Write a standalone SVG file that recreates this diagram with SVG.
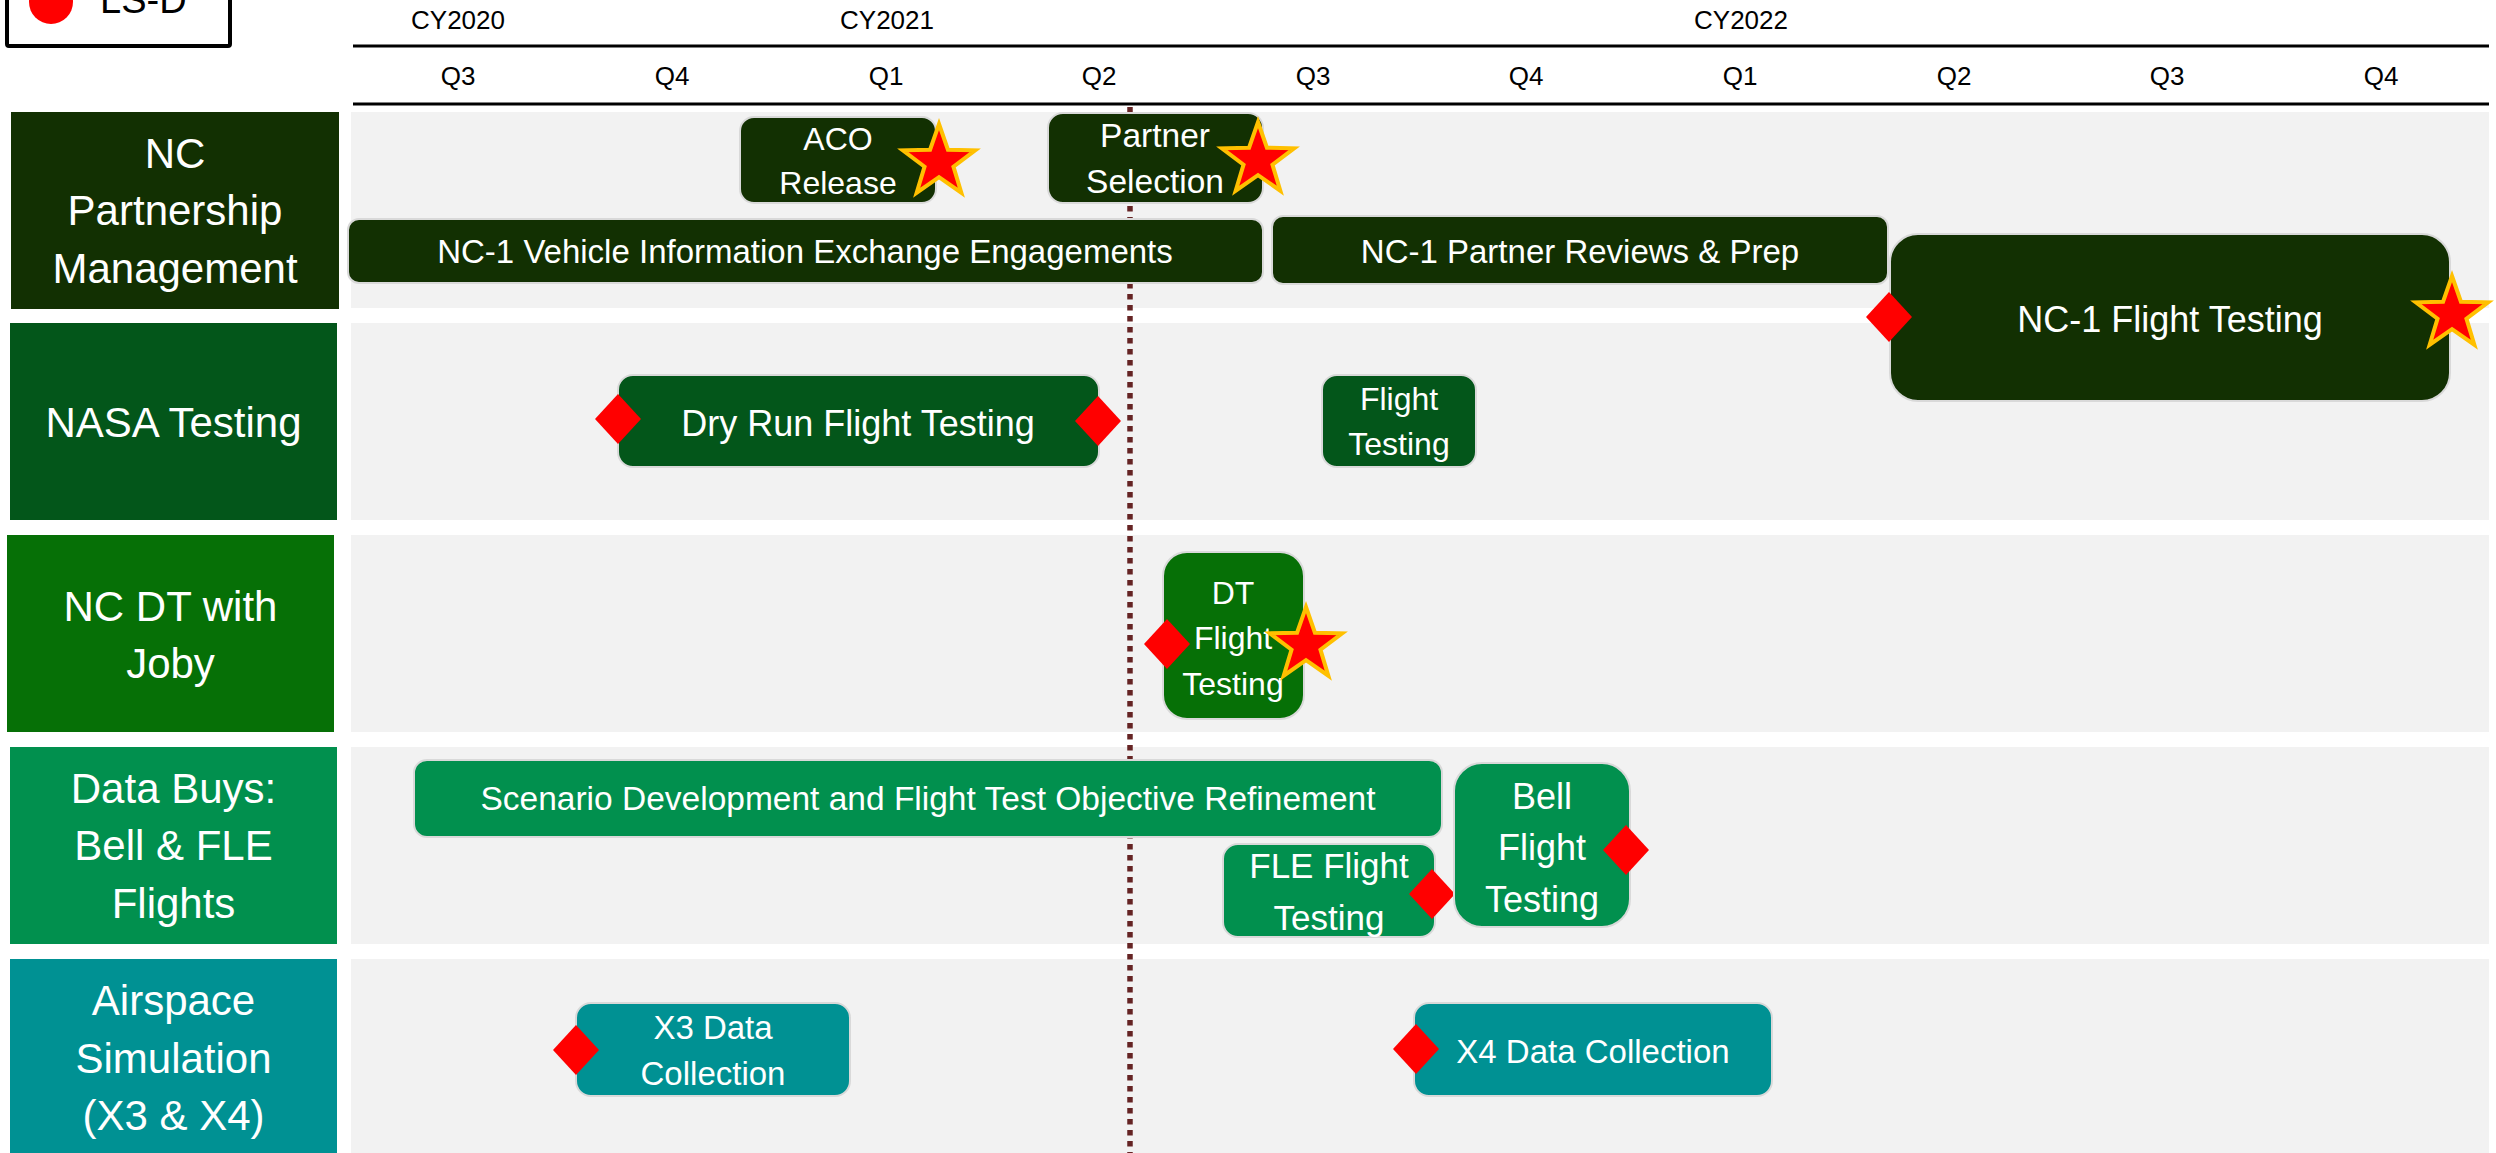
<svg xmlns="http://www.w3.org/2000/svg" xmlns:xlink="http://www.w3.org/1999/xlink" width="2496" height="1153" viewBox="0 0 2496 1153">
  <style>
    text { font-family: "Liberation Sans", Arial, sans-serif; }
    .hdr { font-size: 26px; fill: #000000; text-anchor: middle; }
    .lane { fill: #f2f2f2; }
    .lbl { font-size: 42px; fill: #ffffff; text-anchor: middle; }
    .bar { stroke: #d9d9d9; stroke-width: 2; }
    .t { fill: #ffffff; text-anchor: middle; }
    .c1 { fill: #123002; }
    .c2 { fill: #03561A; }
    .c3 { fill: #067006; }
    .c4 { fill: #01904E; }
    .c5 { fill: #009193; }
    .axis { stroke: #000000; stroke-width: 3; }
    .today { stroke: #652424; stroke-width: 5.5; stroke-dasharray: 5.5 5.5; fill: none; }
  </style>
  <defs>
    <polygon id="diamond" points="0,-25 23,0 0,25 -23,0" fill="#ff0000"/>
    <polygon id="star" points="0,-38 8.93,-12.29 36.14,-11.74 14.46,4.69 22.34,30.74 0,15.2 -22.34,30.74 -14.46,4.69 -36.14,-11.74 -8.93,-12.29" fill="#ff0000" stroke="#ffc000" stroke-width="4" stroke-linejoin="miter"/>
  </defs>

  <rect width="2496" height="1153" fill="#ffffff"/>

  <!-- legend (top edge runs off the canvas) -->
  <g id="legend">
    <rect x="7" y="-20" width="223" height="66" rx="2" fill="#ffffff" stroke="#000000" stroke-width="4"/>
    <circle cx="51" cy="2" r="22" fill="#ff0000"/>
    <text x="100" y="13" font-size="38" fill="#000000">LS-D</text>
  </g>

  <!-- time axis -->
  <g id="axis">
    <text class="hdr" x="458" y="29">CY2020</text>
    <text class="hdr" x="887" y="29">CY2021</text>
    <text class="hdr" x="1741" y="29">CY2022</text>
    <line class="axis" x1="353" y1="46" x2="2489" y2="46"/>
    <text class="hdr" x="458" y="85">Q3</text>
    <text class="hdr" x="672" y="85">Q4</text>
    <text class="hdr" x="886" y="85">Q1</text>
    <text class="hdr" x="1099" y="85">Q2</text>
    <text class="hdr" x="1313" y="85">Q3</text>
    <text class="hdr" x="1526" y="85">Q4</text>
    <text class="hdr" x="1740" y="85">Q1</text>
    <text class="hdr" x="1954" y="85">Q2</text>
    <text class="hdr" x="2167" y="85">Q3</text>
    <text class="hdr" x="2381" y="85">Q4</text>
    <line class="axis" x1="353" y1="104" x2="2489" y2="104"/>
  </g>

  <!-- swimlane backgrounds -->
  <g id="lanes">
    <rect class="lane" x="351" y="112" width="2138" height="196"/>
    <rect class="lane" x="351" y="323" width="2138" height="197"/>
    <rect class="lane" x="351" y="535" width="2138" height="197"/>
    <rect class="lane" x="351" y="747" width="2138" height="197"/>
    <rect class="lane" x="351" y="959" width="2138" height="194"/>
  </g>

  <!-- swimlane titles -->
  <g id="lane-nc-partnership">
    <rect class="c1" x="11" y="112" width="328" height="197"/>
    <text class="lbl" x="175" y="168">NC</text>
    <text class="lbl" x="175" y="225">Partnership</text>
    <text class="lbl" x="175" y="283">Management</text>
  </g>
  <g id="lane-nasa-testing">
    <rect class="c2" x="10" y="323" width="327" height="197"/>
    <text class="lbl" x="173.5" y="437">NASA Testing</text>
  </g>
  <g id="lane-nc-dt-joby">
    <rect class="c3" x="7" y="535" width="327" height="197"/>
    <text class="lbl" x="170.5" y="621">NC DT with</text>
    <text class="lbl" x="170.5" y="678">Joby</text>
  </g>
  <g id="lane-data-buys">
    <rect class="c4" x="10" y="747" width="327" height="197"/>
    <text class="lbl" x="173.5" y="803">Data Buys:</text>
    <text class="lbl" x="173.5" y="860">Bell &amp; FLE</text>
    <text class="lbl" x="173.5" y="918">Flights</text>
  </g>
  <g id="lane-airspace-sim">
    <rect class="c5" x="10" y="959" width="327" height="194"/>
    <text class="lbl" x="173.5" y="1015">Airspace</text>
    <text class="lbl" x="173.5" y="1073">Simulation</text>
    <text class="lbl" x="173.5" y="1130">(X3 &amp; X4)</text>
  </g>

  <!-- status date marker -->
  <g id="today-marker">
    <line class="today" x1="1130" y1="107" x2="1130" y2="1153"/>
  </g>

  <!-- NC Partnership Management tasks -->
  <g id="aco-release">
    <rect class="bar c1" x="740" y="117" width="196" height="86" rx="14"/>
    <text class="t" x="838" y="150" font-size="32">ACO</text>
    <text class="t" x="838" y="194" font-size="32">Release</text>
    <use xlink:href="#star" x="939" y="162"/>
  </g>
  <g id="partner-selection">
    <rect class="bar c1" x="1048" y="113" width="215" height="90" rx="15"/>
    <text class="t" x="1155" y="147" font-size="33.5">Partner</text>
    <text class="t" x="1155" y="193" font-size="33.5">Selection</text>
    <use xlink:href="#star" x="1258" y="160"/>
  </g>
  <g id="nc1-info-exchange">
    <rect class="bar c1" x="348" y="219" width="915" height="64" rx="11"/>
    <text class="t" x="805" y="263" font-size="33">NC-1 Vehicle Information Exchange Engagements</text>
  </g>
  <g id="nc1-partner-reviews">
    <rect class="bar c1" x="1272" y="216" width="616" height="68" rx="11"/>
    <text class="t" x="1580" y="263" font-size="33">NC-1 Partner Reviews &amp; Prep</text>
  </g>
  <g id="nc1-flight-testing">
    <rect class="bar c1" x="1890" y="234" width="560" height="167" rx="28"/>
    <text class="t" x="2170" y="332" font-size="36">NC-1 Flight Testing</text>
    <use xlink:href="#diamond" x="1889" y="317"/>
    <use xlink:href="#star" x="2452" y="314"/>
  </g>

  <!-- NASA Testing tasks -->
  <g id="dry-run-flight-testing">
    <rect class="bar c2" x="618" y="375" width="481" height="92" rx="15"/>
    <text class="t" x="858" y="436" font-size="36">Dry Run Flight Testing</text>
    <use xlink:href="#diamond" x="618" y="419"/>
    <use xlink:href="#diamond" x="1098" y="421"/>
  </g>
  <g id="nasa-flight-testing">
    <rect class="bar c2" x="1322" y="375" width="154" height="92" rx="15"/>
    <text class="t" x="1399" y="410" font-size="32">Flight</text>
    <text class="t" x="1399" y="455" font-size="32">Testing</text>
  </g>

  <!-- NC DT with Joby tasks -->
  <g id="dt-flight-testing">
    <rect class="bar c3" x="1163" y="552" width="141" height="167" rx="24"/>
    <text class="t" x="1233" y="604" font-size="32">DT</text>
    <text class="t" x="1233" y="649" font-size="32">Flight</text>
    <text class="t" x="1233" y="695" font-size="32">Testing</text>
    <use xlink:href="#diamond" x="1167" y="644"/>
    <use xlink:href="#star" x="1306" y="645"/>
  </g>

  <!-- Data Buys tasks -->
  <g id="scenario-development">
    <rect class="bar c4" x="414" y="760" width="1028" height="77" rx="13"/>
    <text class="t" x="928" y="810" font-size="33.5">Scenario Development and Flight Test Objective Refinement</text>
  </g>
  <g id="fle-flight-testing">
    <rect class="bar c4" x="1223" y="844" width="212" height="93" rx="15"/>
    <text class="t" x="1329" y="878" font-size="35">FLE Flight</text>
    <text class="t" x="1329" y="930" font-size="35">Testing</text>
    <use xlink:href="#diamond" x="1432" y="894"/>
  </g>
  <g id="bell-flight-testing">
    <rect class="bar c4" x="1454" y="763" width="176" height="164" rx="28"/>
    <text class="t" x="1542" y="809" font-size="36">Bell</text>
    <text class="t" x="1542" y="860" font-size="36">Flight</text>
    <text class="t" x="1542" y="912" font-size="36">Testing</text>
    <use xlink:href="#diamond" x="1626" y="850"/>
  </g>

  <!-- Airspace Simulation tasks -->
  <g id="x3-data-collection">
    <rect class="bar c5" x="576" y="1003" width="274" height="93" rx="15"/>
    <text class="t" x="713" y="1039" font-size="33">X3 Data</text>
    <text class="t" x="713" y="1085" font-size="33">Collection</text>
    <use xlink:href="#diamond" x="576" y="1050"/>
  </g>
  <g id="x4-data-collection">
    <rect class="bar c5" x="1414" y="1003" width="358" height="93" rx="15"/>
    <text class="t" x="1593" y="1063" font-size="33">X4 Data Collection</text>
    <use xlink:href="#diamond" x="1416" y="1049"/>
  </g>
</svg>
